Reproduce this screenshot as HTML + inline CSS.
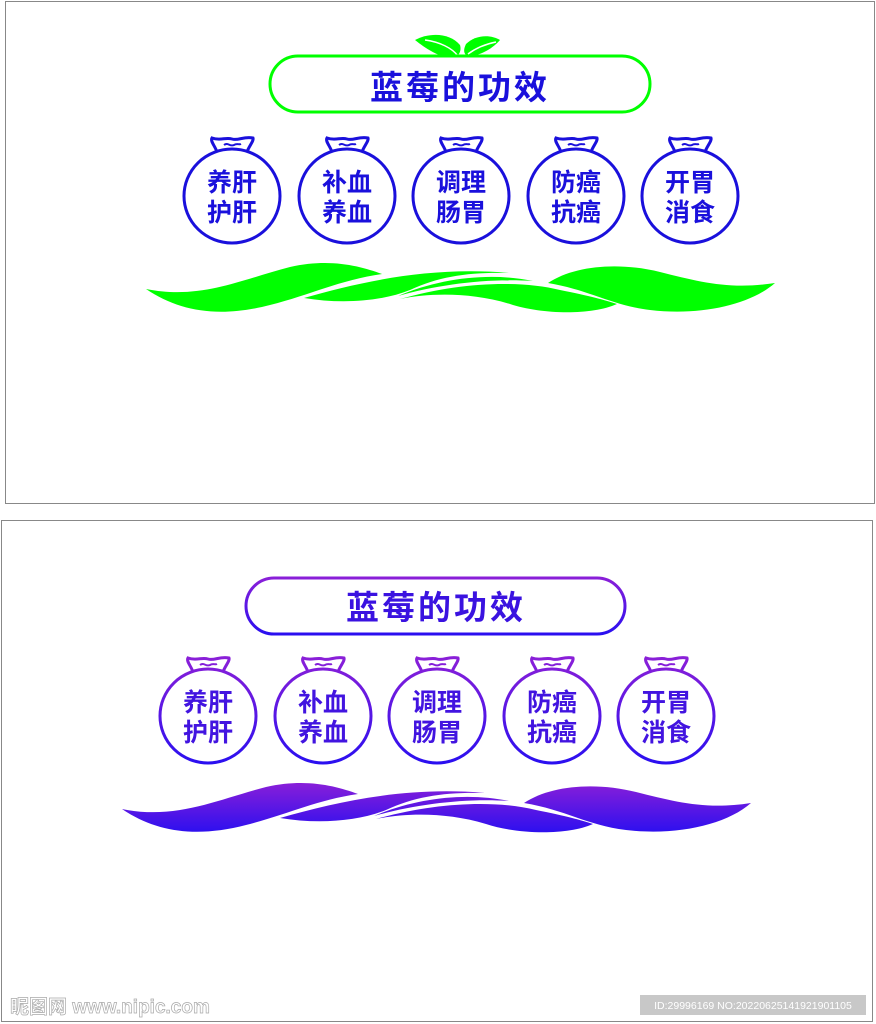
<!DOCTYPE html>
<html><head><meta charset="utf-8"><style>
html,body{margin:0;padding:0;background:#fff;width:876px;height:1024px;overflow:hidden}
svg{display:block}
text{font-family:"Liberation Sans","Noto Sans CJK SC",sans-serif;font-weight:bold}
</style></head><body>
<svg width="876" height="1024" viewBox="0 0 876 1024" xmlns="http://www.w3.org/2000/svg">
<defs>
<linearGradient id="gv" x1="0" y1="0" x2="0" y2="1">
<stop offset="0" stop-color="#8a1fd8"/><stop offset="1" stop-color="#2a0ff0"/></linearGradient>
<linearGradient id="gw" x1="0" y1="262" x2="0" y2="314" gradientUnits="userSpaceOnUse">
<stop offset="0" stop-color="#8a1fd8"/><stop offset="1" stop-color="#2a0ff0"/></linearGradient>
<linearGradient id="gb" x1="0" y1="138" x2="0" y2="244" gradientUnits="userSpaceOnUse">
<stop offset="0" stop-color="#8a1fd8"/><stop offset="1" stop-color="#2a0ff0"/></linearGradient>
<g id="bag">
<ellipse cx="0" cy="196" rx="48" ry="47"/>
<path d="M-15,152 C-17,146 -22,141 -20,138 C-12,141 -6,137 0,139 C6,141 12,136 21,138 C22,141 17,146 15,152"/>
<path d="M-8,145 C-4,142 -2,147 2,145 C5,143 7,145 9,144" stroke-width="2"/>
</g>
<g id="waves">
<path d="M146,289 C200,300 240,280 290,267 C330,258 360,266 382,274 C340,280 310,295 270,305 C220,318 180,312 146,289 Z"/>
<path d="M304,298 C360,282 430,266 509,273 C470,272 440,276 410,290 C380,302 340,304 304,298 Z"/>
<path d="M398,296 C440,278 490,272 533,281 C490,278 440,284 398,296 Z"/>
<path d="M400,299 C460,282 520,280 560,290 C590,296 605,300 617,304 C590,316 540,314 510,304 C470,292 430,293 400,299 Z"/>
<path d="M548,283 C575,265 620,262 660,272 C700,282 730,290 775,283 C750,305 700,316 650,310 C610,305 590,290 548,283 Z"/>
</g>
</defs>

<rect x="5.5" y="1.5" width="869" height="502" fill="none" stroke="#888" stroke-width="1"/>
<g fill="#00ff00">
<path d="M415,40 C430,32 450,33 460,45 C462,52 458,57 452,58 C440,58 425,48 415,40 Z"/>
<path d="M500,40 C490,34 475,35 466,44 C462,52 465,56 470,56 C482,55 493,48 500,40 Z"/>
</g>
<path d="M425,40 C440,42 452,48 458,56 M496,42 C486,44 476,48 468,54" stroke="#fff" stroke-width="1.5" fill="none"/>
<rect x="270" y="56" width="380" height="56" rx="28" fill="#fff" stroke="#00ff00" stroke-width="3"/>
<text x="460" y="99" text-anchor="middle" font-size="33" fill="#1a10dc" letter-spacing="3">蓝莓的功效</text>
<g fill="none" stroke="#1a10dc" stroke-width="3">
<use href="#bag" x="232"/><use href="#bag" x="347"/><use href="#bag" x="461"/><use href="#bag" x="576"/><use href="#bag" x="690"/>
</g>
<g font-size="25" fill="#1a10dc" text-anchor="middle">
<text x="232" y="191">养肝</text><text x="232" y="221">护肝</text>
<text x="347" y="191">补血</text><text x="347" y="221">养血</text>
<text x="461" y="191">调理</text><text x="461" y="221">肠胃</text>
<text x="576" y="191">防癌</text><text x="576" y="221">抗癌</text>
<text x="690" y="191">开胃</text><text x="690" y="221">消食</text>
</g>
<use href="#waves" fill="#00ff00"/>

<rect x="1.5" y="520.5" width="871" height="501" fill="none" stroke="#888" stroke-width="1"/>
<rect x="246" y="578" width="379" height="56" rx="28" fill="#fff" stroke="url(#gv)" stroke-width="3"/>
<text x="436" y="619" text-anchor="middle" font-size="33" fill="#3a12e0" letter-spacing="3">蓝莓的功效</text>
<g transform="translate(-24,520)">
<g fill="none" stroke="url(#gb)" stroke-width="3">
<use href="#bag" x="232"/><use href="#bag" x="347"/><use href="#bag" x="461"/><use href="#bag" x="576"/><use href="#bag" x="690"/>
</g>
<g font-size="25" fill="#4214e0" text-anchor="middle">
<text x="232" y="191">养肝</text><text x="232" y="221">护肝</text>
<text x="347" y="191">补血</text><text x="347" y="221">养血</text>
<text x="461" y="191">调理</text><text x="461" y="221">肠胃</text>
<text x="576" y="191">防癌</text><text x="576" y="221">抗癌</text>
<text x="690" y="191">开胃</text><text x="690" y="221">消食</text>
</g>
<use href="#waves" fill="url(#gw)"/>
</g>

<text x="10" y="1013" font-size="19" fill="#fff" stroke="#aaa" stroke-width="0.7">昵图网 www.nipic.com</text>
<rect x="640" y="995" width="226" height="20" fill="#c8c8c8"/>
<text x="753" y="1009" text-anchor="middle" font-size="10.5" fill="#fff" style="font-weight:normal">ID:29996169 NO:20220625141921901105</text>
</svg>
</body></html>
